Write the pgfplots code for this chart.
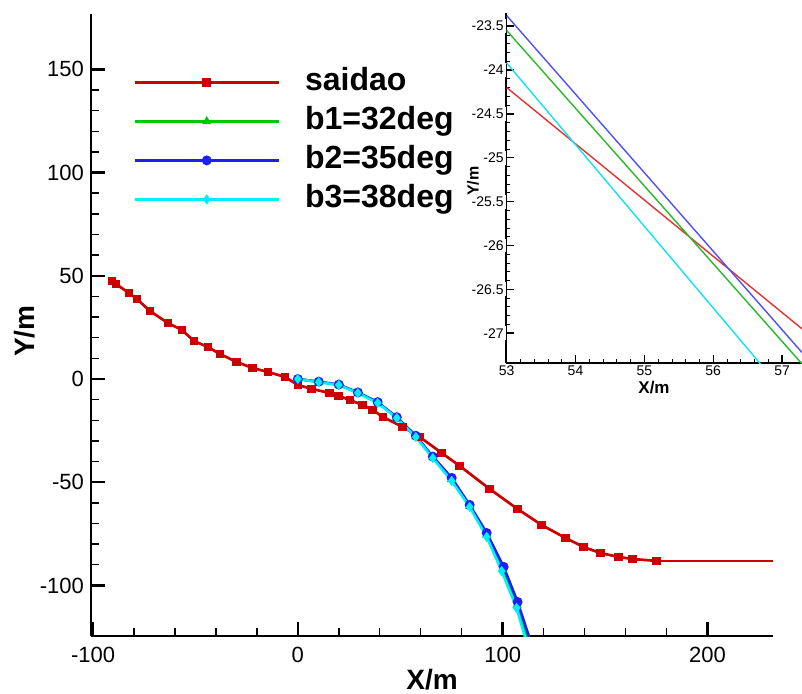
\documentclass[border=0pt]{standalone}
\usepackage{pgfplots}
\pgfplotsset{compat=1.18}
\usepackage{fontspec}
\setmainfont{Liberation Sans}
\definecolor{cred}{RGB}{204,0,0}
\definecolor{cgreen}{RGB}{0,200,0}
\definecolor{cblue}{RGB}{30,30,245}
\definecolor{ccyan}{RGB}{0,240,250}
\definecolor{ired}{RGB}{225,50,50}
\definecolor{igreen}{RGB}{40,185,40}
\definecolor{iblue}{RGB}{80,80,245}
\definecolor{icyan}{RGB}{20,225,240}
\begin{document}
\begin{tikzpicture}
\path[use as bounding box] (0,0) rectangle (401pt,346.5pt);
\begin{axis}[
  at={(45.5pt,28.5pt)}, anchor=south west,
  scale only axis, width=341pt, height=311pt,
  xmin=-101, xmax=232, ymin=-124.5, ymax=176.8,
  axis lines=left, axis line style={line width=1.4pt,-},
  xtick={-100,0,100,200}, ytick={-100,-50,0,50,100,150},
  minor x tick num=4, minor y tick num=4,
  tick align=inside, major tick length=7pt, minor tick length=4pt,
  every tick/.style={black,line width=1.2pt},
  minor tick style={line width=0.7pt},
  /pgf/number format/assume math mode=true,
  ticklabel style={font=\fontsize{11}{12}\selectfont},
  xticklabel style={yshift=-2pt},
  xlabel={\textbf{X/m}}, ylabel={\textbf{Y/m}},
  every axis x label/.style={at={(axis description cs:0.5,0)}, yshift=-22pt, anchor=center, font=\fontsize{14}{16}\selectfont},
  every axis y label/.style={at={(axis description cs:0,0.49)}, xshift=-33pt, rotate=90, anchor=center, font=\fontsize{14}{16}\selectfont},
  legend style={draw=none, fill=none, at={(rel axis cs:0.0616,0.922)}, anchor=north west,
    inner sep=0pt, row sep=0pt, column sep=12.5pt,
    nodes={inner sep=0pt, text height=14pt, text depth=5.5pt},
    font=\bfseries\fontsize{16}{19}\selectfont},
  legend cell align=left,
  legend image code/.code={\draw[mark repeat=2,mark phase=2,#1] plot coordinates {(0pt,0pt) (36pt,0pt) (72pt,0pt)};},
]
\addplot[cred, line width=1.35pt, mark=square*, mark size=1.5pt, mark options={solid}] coordinates {
(-90.7,47.5) (-88.8,46.0) (-82.4,41.6) (-78.5,38.7) (-72.2,32.9) (-63.4,27.1)
(-56.6,23.7) (-50.7,18.4) (-43.9,15.5) (-38.0,12.1) (-29.8,8.2) (-22.0,5.3)
(-14.6,3.4) (-6.3,1.0) (0,-2.9) (6.8,-4.8) (15.6,-6.8) (20,-8.2) (25.4,-10.2)
(31.7,-12.6) (36.6,-15.0) (41.5,-18.4) (51.2,-23.2) (59.5,-28.1) (70.2,-35.8)
(79,-42.1) (93.7,-53.3) (107.3,-63.0) (119,-70.7) (130.7,-77.0) (139.5,-81.4)
(147.8,-84.3) (156.6,-86.2) (163.4,-87.2) (175.1,-88.1)
};
\addlegendentry{saidao}
\addplot[cgreen, line width=1.3pt, mark=triangle*, mark size=1.4pt] coordinates {
(0,0) (10.2,-1.4) (20,-2.8) (29.3,-6.6) (39,-11.4) (48.3,-18.7) (57.6,-27.8)
(65.9,-38) (75.1,-48.6) (83.9,-61.5) (92.2,-75.5) (100,-92) (107,-109.5) (112.5,-127)
};
\addlegendentry{b1=32deg}
\addplot[cblue, line width=1.3pt, mark=*, mark size=1.8pt] coordinates {
(0,0) (10.2,-1.3) (20,-2.7) (29.3,-6.5) (39,-11.2) (48.3,-18.5) (57.6,-27.5)
(65.9,-37.6) (75.1,-47.9) (83.9,-61) (92.2,-74.6) (100.5,-91) (107.3,-108) (113.6,-127)
};
\addlegendentry{b2=35deg}
\addplot[ccyan, line width=1.3pt, mark=diamond*, mark size=1.5pt] coordinates {
(0,0) (10.2,-1.5) (20,-2.9) (29.3,-6.8) (39,-11.6) (48.3,-18.9) (57.6,-28.1)
(65.9,-38.3) (75.1,-49.4) (83.9,-62) (92.2,-76.5) (99.5,-93) (106.8,-110.9) (111.5,-127)
};
\addlegendentry{b3=38deg}
\addplot[cred, line width=1.35pt, forget plot] coordinates {(175.1,-88.1) (232,-88.1)};
\end{axis}
\begin{axis}[
  at={(253pt,165pt)}, anchor=south west,
  scale only axis, width=148pt, height=175pt,
  xmin=52.99, xmax=57.29, ymin=-27.34, ymax=-23.35,
  axis lines=left, axis line style={line width=0.8pt,-},
  xtick={53,54,55,56,57}, ytick={-27,-26.5,-26,-25.5,-25,-24.5,-24,-23.5},
  minor x tick num=4, minor y tick num=4,
  tick align=inside, major tick length=4pt, minor tick length=2pt,
  every tick/.style={black,line width=0.7pt},
  minor tick style={line width=0.4pt},
  /pgf/number format/assume math mode=true,
  ticklabel style={font=\fontsize{7}{8}\selectfont, inner sep=1pt},
  yticklabel style={fill=white},
  xlabel={\textbf{X/m}}, ylabel={\textbf{Y/m}},
  every axis x label/.style={at={(axis description cs:0.5,0)}, yshift=-12.5pt, anchor=center, font=\fontsize{8.5}{10}\selectfont},
  every axis y label/.style={at={(axis description cs:0,0.52)}, xshift=-16.5pt, rotate=90, anchor=center, font=\fontsize{8}{10}\selectfont},
]
\addplot[ired, line width=0.7pt] coordinates {(53,-24.2) (57.29,-26.95)};
\addplot[igreen, line width=0.7pt] coordinates {(53,-23.55) (57.29,-27.35)};
\addplot[iblue, line width=0.7pt] coordinates {(53,-23.38) (57.29,-27.22)};
\addplot[icyan, line width=0.7pt] coordinates {(53,-23.92) (56.75,-27.41)};
\end{axis}
\end{tikzpicture}
\end{document}
